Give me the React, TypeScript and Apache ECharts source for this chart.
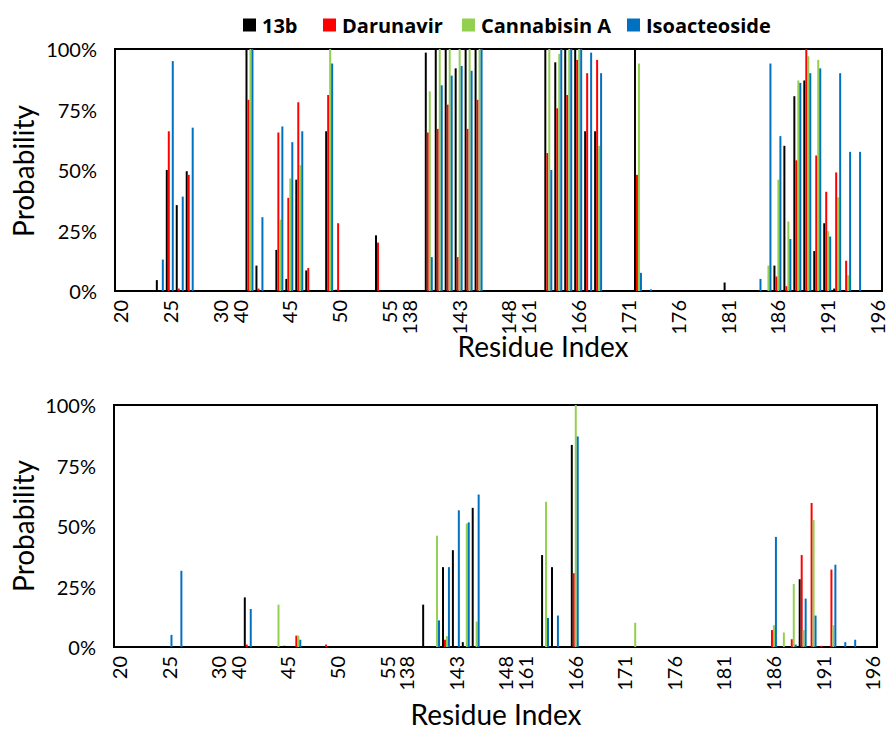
import React, { useEffect, useRef } from "react";
import * as echarts from "echarts";

const CATEGORIES: string[] = [
  "20", "21", "22", "23", "24", "25", "26", "27", "28", "29", "30",
  "gap1",
  "40", "41", "42", "43", "44", "45", "46", "47", "48", "49", "50", "51", "52", "53", "54", "55",
  "gap2",
  "138", "139", "140", "141", "142", "143", "144", "145", "146", "147", "148",
  "gap3",
  "161", "162", "163", "164", "165", "166", "167", "168", "169", "170", "171", "172", "173", "174",
  "175", "176", "177", "178", "179", "180", "181", "182", "183", "184", "185", "186", "187", "188",
  "189", "190", "191", "192", "193", "194", "195", "196",
];

const TICK_LABELS: string[] = [
  "20", "25", "30", "40", "45", "50", "55", "138", "143", "148",
  "161", "166", "171", "176", "181", "186", "191", "196",
];

const Y_TICKS: number[] = [0, 25, 50, 75, 100];

const SERIES_NAMES: string[] = ["13b", "Darunavir", "Cannabisin A", "Isoacteoside"];
const COLORS: string[] = ["#000000", "#FF0000", "#92D050", "#0070C0"];

// Top panel (probability, %)
const TOP_13B: [string, number][] = [
  ["24", 4.5], ["25", 50], ["26", 35.5], ["27", 49.5], ["41", 100], ["42", 10.5], ["44", 17],
  ["45", 5], ["46", 46], ["47", 8.5], ["49", 66], ["50", 0.5], ["54", 23], ["140", 98.5],
  ["141", 100], ["142", 100], ["143", 92], ["144", 100], ["145", 100], ["163", 100], ["164", 94.5],
  ["165", 100], ["166", 100], ["167", 66], ["168", 66], ["172", 100], ["181", 3.5], ["186", 10.5],
  ["187", 60], ["188", 80.5], ["189", 87], ["190", 16.5], ["191", 28], ["192", 1],
];
const TOP_DARUNAVIR: [string, number][] = [
  ["25", 66], ["26", 1], ["27", 48], ["41", 79], ["42", 1], ["44", 65.5], ["45", 38.5], ["46", 78],
  ["47", 9.5], ["49", 81], ["50", 28], ["54", 20], ["140", 65.5], ["141", 67], ["142", 77],
  ["143", 14], ["144", 67], ["145", 79], ["163", 57], ["164", 75.5], ["165", 81], ["166", 95.5],
  ["167", 90], ["168", 95.5], ["172", 48], ["186", 6], ["187", 2], ["188", 54], ["189", 100],
  ["190", 56], ["191", 41], ["192", 49], ["193", 12.5],
];
const TOP_CANNABISIN: [string, number][] = [
  ["41", 100], ["44", 29.5], ["45", 46.5], ["46", 52], ["49", 100], ["140", 82.5], ["141", 100],
  ["142", 100], ["143", 100], ["144", 100], ["145", 100], ["163", 100], ["164", 98], ["165", 100],
  ["166", 100], ["168", 60], ["172", 94], ["185", 10.5], ["186", 46], ["187", 28.7], ["188", 87],
  ["189", 97], ["190", 95.5], ["191", 24.7], ["192", 38.7], ["193", 6.5],
];
const TOP_ISOACTEOSIDE: [string, number][] = [
  ["24", 13], ["25", 95], ["26", 39], ["27", 67.5], ["41", 100], ["42", 30.5], ["44", 68],
  ["45", 61.5], ["46", 66], ["49", 94], ["140", 14], ["141", 85], ["142", 89], ["143", 93],
  ["144", 91], ["145", 100], ["163", 50], ["164", 100], ["165", 100], ["166", 100], ["167", 98.5],
  ["168", 90], ["172", 7.5], ["173", 0.7], ["184", 5], ["185", 94], ["186", 64], ["187", 21.5],
  ["188", 86], ["189", 90], ["190", 92], ["191", 22.5], ["192", 90], ["193", 57.5], ["194", 57.5],
];

// Bottom panel (probability, %)
const BOT_13B: [string, number][] = [
  ["41", 20.5], ["45", 0.5], ["140", 17.5], ["142", 33], ["143", 40], ["144", 2], ["145", 57.5],
  ["163", 38], ["164", 33], ["166", 83.5], ["189", 28],
];
const BOT_DARUNAVIR: [string, number][] = [
  ["41", 1], ["46", 4.7], ["49", 1], ["142", 3], ["166", 30.5], ["186", 7], ["188", 3.2],
  ["189", 38], ["190", 59.5], ["191", 0.5], ["192", 32],
];
const BOT_CANNABISIN: [string, number][] = [
  ["44", 17.5], ["46", 4.7], ["141", 46], ["142", 4.5], ["144", 51], ["145", 10.5], ["163", 60],
  ["166", 100], ["172", 10], ["186", 9], ["187", 6], ["188", 26], ["189", 7], ["190", 52.5],
  ["192", 9],
];
const BOT_ISOACTEOSIDE: [string, number][] = [
  ["25", 5], ["26", 31.5], ["41", 15.7], ["46", 3], ["141", 11], ["142", 33], ["143", 56.5],
  ["144", 51.5], ["145", 63], ["163", 12], ["164", 13], ["166", 87], ["186", 45.5], ["188", 1],
  ["189", 20], ["190", 13], ["192", 34], ["193", 2], ["194", 3],
];

const TOP_DATA = [TOP_13B, TOP_DARUNAVIR, TOP_CANNABISIN, TOP_ISOACTEOSIDE];
const BOT_DATA = [BOT_13B, BOT_DARUNAVIR, BOT_CANNABISIN, BOT_ISOACTEOSIDE];

const FONT = "Lato, 'Open Sans', sans-serif";
const LEGEND_FONT = "'Open Sans', sans-serif";
const LEGEND_LEFT: number[] = [243, 323, 462, 627];

function toData(pairs: [string, number][]): (number | null)[] {
  const m = new Map(pairs);
  return CATEGORIES.map((c) => (m.has(c) ? (m.get(c) as number) : null));
}

export default function App() {
  const ref = useRef<HTMLDivElement>(null);
  useEffect(() => {
    if (!ref.current) return;
    const chart = echarts.init(ref.current, undefined, { renderer: "svg" });

    const grids = [
      { left: 115, top: 49, width: 767, height: 242 },
      { left: 114, top: 405, width: 763, height: 242 },
    ];

    const xAxes = grids.map((_, i) => ({
      type: "category",
      gridIndex: i,
      data: CATEGORIES,
      axisLine: { show: true, lineStyle: { color: "#000", width: 2 } },
      axisTick: { show: false },
      axisLabel: {
        interval: (_idx: number, value: string) => TICK_LABELS.includes(value),
        rotate: 90,
        margin: 9,
        color: "#000",
        fontSize: 20,
        lineHeight: 18,
        fontFamily: FONT,
      },
      splitLine: { show: false },
    }));

    const yAxes = grids.map((_, i) => ({
      type: "value",
      gridIndex: i,
      min: Y_TICKS[0],
      max: Y_TICKS[Y_TICKS.length - 1],
      interval: 25,
      axisLine: { show: true, lineStyle: { color: "#000", width: 2 } },
      axisTick: { show: false },
      splitLine: { show: false },
      axisLabel: {
        formatter: "{value}%",
        color: "#000",
        fontSize: 20,
        margin: 18,
        fontFamily: FONT,
      },
    }));

    const series: any[] = [];
    [TOP_DATA, BOT_DATA].forEach((panel, p) => {
      panel.forEach((pairs, s) => {
        series.push({
          type: "bar",
          name: SERIES_NAMES[s],
          xAxisIndex: p,
          yAxisIndex: p,
          data: toData(pairs),
          itemStyle: { color: COLORS[s] },
          barGap: "0%",
          barCategoryGap: "20%",
        });
      });
    });

    const legends = SERIES_NAMES.map((name, i) => ({
      data: [name],
      left: LEGEND_LEFT[i],
      top: 15,
      icon: "rect",
      itemWidth: 13,
      itemHeight: 13,
      itemGap: 6,
      padding: 0,
      textStyle: {
        fontSize: 20,
        fontWeight: "bold",
        color: "#000",
        fontFamily: LEGEND_FONT,
        padding: [0, 0, 0, 1],
      },
    }));

    const titleStyle = {
      fontSize: 28,
      fontFamily: FONT,
      fill: "#000",
      textAlign: "center",
      textVerticalAlign: "middle",
    };

    chart.setOption({
      animation: false,
      backgroundColor: "#fff",
      color: COLORS,
      legend: legends,
      grid: grids.map((g) => ({ ...g, show: true, borderColor: "#000", borderWidth: 2 })),
      xAxis: xAxes,
      yAxis: yAxes,
      series,
      graphic: [
        { type: "text", x: 23, y: 171, rotation: Math.PI / 2, style: { ...titleStyle, text: "Probability" } },
        { type: "text", x: 23, y: 526, rotation: Math.PI / 2, style: { ...titleStyle, text: "Probability" } },
        { type: "text", x: 543, y: 346, style: { ...titleStyle, text: "Residue Index" } },
        { type: "text", x: 496, y: 714, style: { ...titleStyle, text: "Residue Index" } },
      ],
    });

    return () => chart.dispose();
  }, []);

  return (
    <div
      ref={ref}
      style={{ position: "fixed", left: 0, top: 0, width: 889, height: 731, background: "#fff" }}
    />
  );
}
